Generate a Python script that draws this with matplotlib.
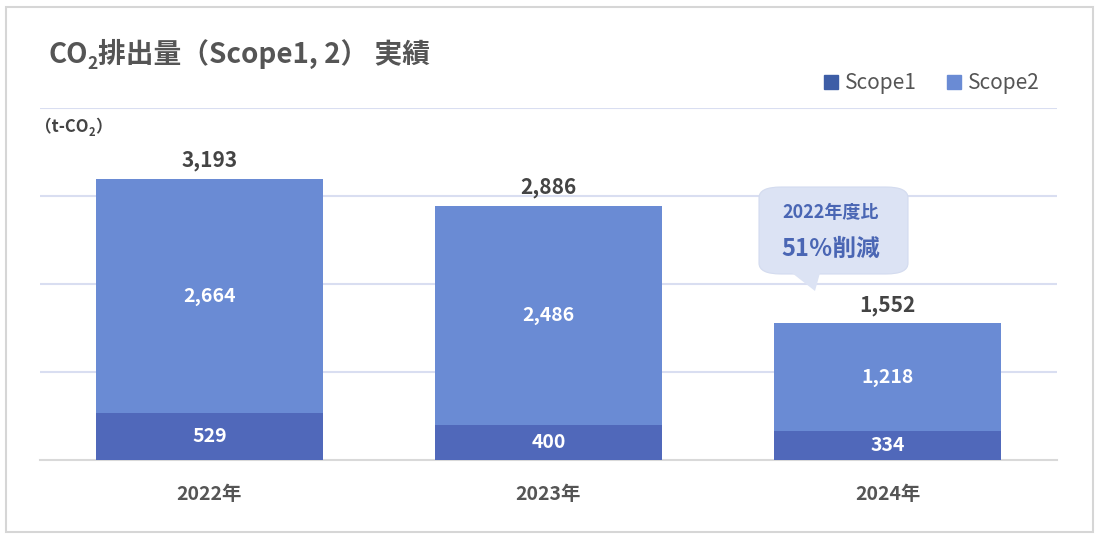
import matplotlib.pyplot as plt
from matplotlib.patches import FancyBboxPatch, Polygon, Rectangle
from matplotlib.lines import Line2D
import numpy as np

plt.rcParams['font.family'] = ['Noto Sans CJK JP', 'DejaVu Sans']

years = ['2022年', '2023年', '2024年']
scope1 = [529, 400, 334]
scope2 = [2664, 2486, 1218]
totals = [3193, 2886, 1552]

c1 = '#5068BA'
c2 = '#6A8BD4'
c1_legend = '#3D5DA6'
grey_text = '#555555'

fig = plt.figure(figsize=(11, 5.4), dpi=100)
fig.patch.set_facecolor('white')

# outer frame
fig.patches.append(Rectangle((6 / 1100, 1 - 532 / 540), 1087 / 1100, 525 / 540,
                             transform=fig.transFigure, fill=False,
                             edgecolor='#D6D6D6', linewidth=1.5))

ax = fig.add_axes([40 / 1100, 1 - 460 / 540, 1017 / 1100, 352 / 540])
x = np.arange(len(years))
w = 0.667
ax.bar(x, scope1, width=w, color=c1, zorder=3)
ax.bar(x, scope2, width=w, bottom=scope1, color=c2, zorder=3)

ax.set_xlim(-0.5, 2.5)
ax.set_ylim(0, 4000)
ax.set_yticks([1000, 2000, 3000, 4000])
ax.yaxis.grid(True, color='#D9DEF1', linewidth=1.5, zorder=0)
ax.set_yticklabels([])
ax.tick_params(axis='both', length=0)
ax.set_xticks(x)
ax.set_xticklabels(years, fontsize=14, fontweight='bold', color=grey_text)
ax.tick_params(axis='x', pad=18)
for s in ['top', 'right', 'left']:
    ax.spines[s].set_visible(False)
ax.spines['bottom'].set_color('#D9D9D9')
ax.spines['bottom'].set_linewidth(1.5)

# value labels
for i in range(len(years)):
    ax.text(x[i], scope1[i] / 2, f'{scope1[i]:,}', ha='center', va='center',
            color='white', fontsize=14, fontweight='bold', zorder=4)
    ax.text(x[i], scope1[i] + scope2[i] / 2, f'{scope2[i]:,}', ha='center',
            va='center', color='white', fontsize=14, fontweight='bold', zorder=4)
    ax.text(x[i], totals[i] + 90, f'{totals[i]:,}', ha='center', va='bottom',
            color='#444444', fontsize=15, fontweight='bold', zorder=4)

# callout bubble
bub = FancyBboxPatch((759 / 1100, 1 - 274 / 540), 149 / 1100, 87 / 540,
                     boxstyle='round,pad=0,rounding_size=0.02',
                     transform=fig.transFigure, facecolor='#DCE3F4',
                     edgecolor='#D3DBEF', linewidth=0.8, zorder=5)
fig.patches.append(bub)
tail = Polygon([(792 / 1100, 1 - 273 / 540), (820 / 1100, 1 - 273 / 540),
                (815 / 1100, 1 - 291 / 540)], closed=True,
               transform=fig.transFigure, facecolor='#DCE3F4',
               edgecolor='none', zorder=5)
fig.patches.append(tail)
fig.text(831 / 1100, 1 - 213 / 540, '2022年度比', ha='center', va='center',
         color='#4A66B4', fontsize=13, fontweight='bold', zorder=6)
fig.text(831 / 1100, 1 - 249 / 540, '51％削減', ha='center', va='center',
         color='#4A66B4', fontsize=17, fontweight='bold', zorder=6)

# title with subscript, chained pieces
t1 = fig.text(48 / 1100, 1 - 55 / 540, 'CO', ha='left', va='center',
              color=grey_text, fontsize=20, fontweight='bold')
a2 = fig.add_artist(plt.Annotation('2', xy=(1.0, 0.0), xycoords=t1,
                                   xytext=(0, -3), textcoords='offset points',
                                   ha='left', va='bottom', color=grey_text,
                                   fontsize=12.5, fontweight='bold'))
fig.add_artist(plt.Annotation('排出量（Scope1, 2） 実績', xy=(1.0, 0.0),
                              xycoords=a2, xytext=(0, 3),
                              textcoords='offset points', ha='left',
                              va='bottom', color=grey_text, fontsize=20,
                              fontweight='bold'))

# unit label
u1 = fig.text(35 / 1100, 1 - 127 / 540, '（t-CO', ha='left', va='center',
              color='#444444', fontsize=12, fontweight='bold')
u2 = fig.add_artist(plt.Annotation('2', xy=(1.0, 0.0), xycoords=u1,
                                   xytext=(0, -2), textcoords='offset points',
                                   ha='left', va='bottom', color='#444444',
                                   fontsize=8, fontweight='bold'))
fig.add_artist(plt.Annotation('）', xy=(1.0, 0.0), xycoords=u2,
                              xytext=(0, 2), textcoords='offset points',
                              ha='left', va='bottom', color='#444444',
                              fontsize=12, fontweight='bold'))

# legend
handles = [Line2D([], [], marker='s', linestyle='', markersize=10, color=c1_legend),
           Line2D([], [], marker='s', linestyle='', markersize=10, color=c2)]
fig.legend(handles, ['Scope1', 'Scope2'], loc='center right',
           bbox_to_anchor=(1058 / 1100, 1 - 83 / 540), ncol=2, frameon=False,
           fontsize=15, handletextpad=0.15, columnspacing=1.3, handlelength=1.0,
           labelcolor=grey_text)

fig.savefig('out.png', dpi=100)
